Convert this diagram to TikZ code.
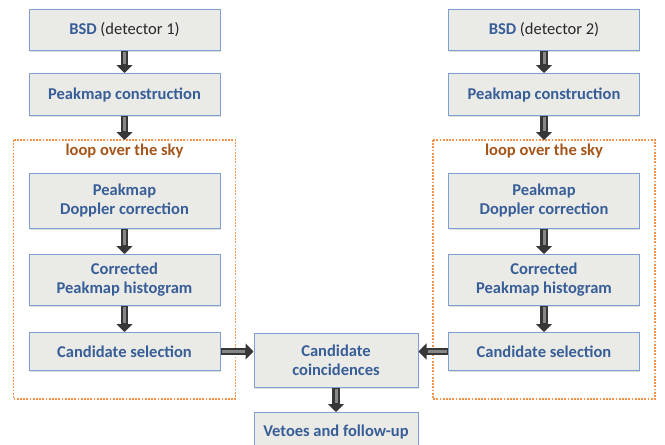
\documentclass[tikz,border=0pt]{standalone}
\usepackage{fontspec}
\setmainfont{Carlito}
\definecolor{boxfill}{RGB}{234,234,230}
\definecolor{boxline}{RGB}{125,160,208}
\definecolor{boxtext}{RGB}{56,94,152}
\definecolor{plaintext}{RGB}{40,40,40}
\definecolor{loopline}{RGB}{246,146,72}
\definecolor{looptext}{RGB}{165,85,25}
\definecolor{arrowdark}{RGB}{55,55,55}
\definecolor{arrowlight}{RGB}{135,135,135}
\usetikzlibrary{
  positioning,     % nodes below of each other
  calc,            % corners of the loop frames
  arrows.meta,     % block arrow heads
  shadows          % soft shadow under the boxes
}
\tikzset{
  x=1pt, y=1pt,
  node distance=22pt and 33pt,
  every node/.style = {
    font=\fontsize{16.5}{19}\selectfont\bfseries,
    text=boxtext,
    align=center
  },
  stage/.style = {
    rectangle,
    draw=boxline,
    line width=1pt,
    fill=boxfill,
    minimum width=191pt,
    minimum height=40pt,
    inner sep=2pt,
    drop shadow={shadow xshift=0.6pt, shadow yshift=-1.6pt, opacity=0.25}
  },
  merge/.style = {stage, minimum width=164pt},
  looptitle/.style = {text=looptext},
  loopbox/.style = {draw=loopline, line width=1.2pt, dash pattern=on 1.8pt off 1.4pt},
  fatarrow/.style = {
    draw=arrowdark,
    line width=7.5pt,
    -{Triangle[length=8pt,width=16pt]},
    postaction={draw=arrowlight, line width=3pt, -, shorten >=9pt, shorten <=1pt}
  }
}

\begin{document}
\begin{tikzpicture}
  \useasboundingbox (0,0) rectangle (665,-445);

  %% nodes, detector 1
  \node[stage, minimum height=41pt] (BSD1) at (124.5,-30) {BSD \textcolor{plaintext}{\mdseries(detector 1)}};
  \node[stage, minimum height=42pt] (PC1) [below=of BSD1] {Peakmap construction};
  \node[stage, minimum height=55pt] (DC1) [below=57pt of PC1] {Peakmap\\Doppler correction};
  \node[stage, minimum height=51pt] (HI1) [below=25pt of DC1] {Corrected\\Peakmap histogram};
  \node[stage, minimum height=38pt] (CS1) [below=26pt of HI1] {Candidate selection};

  %% nodes, detector 2
  \node[stage, minimum height=41pt] (BSD2) at (544,-30) {BSD \textcolor{plaintext}{\mdseries(detector 2)}};
  \node[stage, minimum height=42pt] (PC2) [below=of BSD2] {Peakmap construction};
  \node[stage, minimum height=55pt] (DC2) [below=57pt of PC2] {Peakmap\\Doppler correction};
  \node[stage, minimum height=51pt] (HI2) [below=25pt of DC2] {Corrected\\Peakmap histogram};
  \node[stage, minimum height=38pt] (CS2) [below=26pt of HI2] {Candidate selection};

  %% nodes, common part
  \node[merge, minimum height=54pt, anchor=north west] (CC) at ($(CS1.north east)+(33,-1)$) {Candidate\\coincidences};
  \node[merge, minimum height=40pt] (VF) [below=24pt of CC] {Vetoes and follow-up};

  %% loops over the sky
  \draw[loopbox] ($(DC1.north west)+(-15,33)$) rectangle ($(CS1.south east)+(15,-28)$);
  \draw[loopbox] ($(DC2.north west)+(-15,33)$) rectangle ($(CS2.south east)+(15,-28)$);
  \coordinate (L1) at ($(DC1.north)+(0,33)$);
  \coordinate (L2) at ($(DC2.north)+(0,33)$);
  \node[looptitle] (T1) at ($(DC1.north)+(0,22)$) {loop over the sky};
  \node[looptitle] (T2) at ($(DC2.north)+(0,22)$) {loop over the sky};

  %% arrows
  \draw[fatarrow] (BSD1.south) -- (PC1.north);
  \draw[fatarrow] (PC1.south) -- (L1);
  \draw[fatarrow] (DC1.south) -- (HI1.north);
  \draw[fatarrow] (HI1.south) -- (CS1.north);

  \draw[fatarrow] (BSD2.south) -- (PC2.north);
  \draw[fatarrow] (PC2.south) -- (L2);
  \draw[fatarrow] (DC2.south) -- (HI2.north);
  \draw[fatarrow] (HI2.south) -- (CS2.north);

  \draw[fatarrow] (CS1.east) -- (CS1.east -| CC.west);
  \draw[fatarrow] (CS2.west) -- (CS2.west -| CC.east);
  \draw[fatarrow] (CC.south) -- (VF.north);

\end{tikzpicture}
\end{document}
